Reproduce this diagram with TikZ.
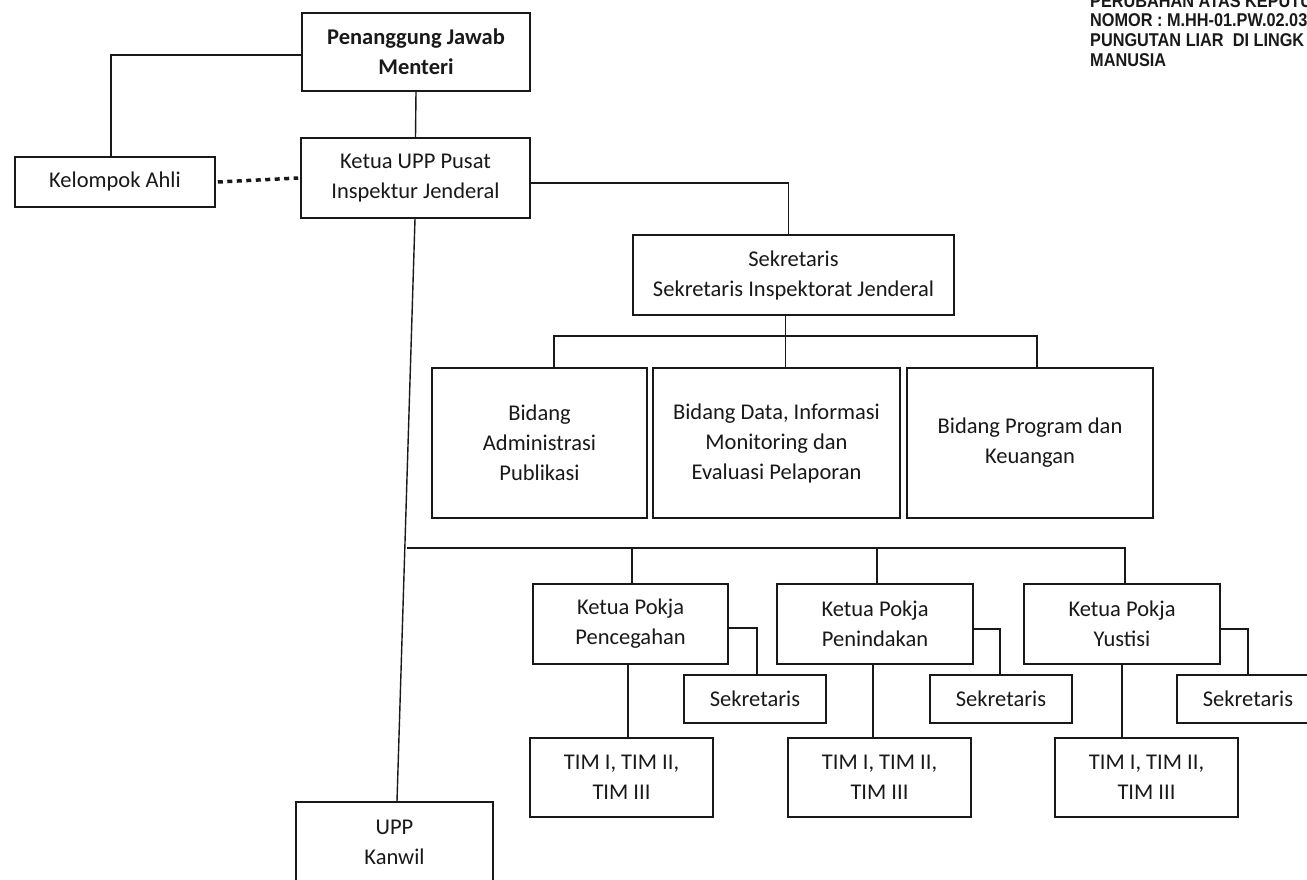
\documentclass[tikz,border=0pt]{standalone}
\usepackage{fontspec}
\setmainfont{Carlito}
\newfontfamily\hdrfont{Liberation Sans}[FakeStretch=0.88]
\begin{document}
\begin{tikzpicture}[x=1pt,y=-1pt,
  box/.style={draw=black!90, line width=1.6pt, align=center, inner sep=0pt,
    font=\fontsize{22.5}{30}\selectfont, text=black!90},
  conn/.style={draw=black!90, line width=1.4pt},
  dotline/.style={draw=black!90, line width=3.5pt, dash pattern=on 5pt off 4.5pt},
  hdr/.style={anchor=base west, inner sep=0pt, font=\hdrfont\bfseries\fontsize{18.5}{20}\selectfont, text=black!90}]
\useasboundingbox (0,0) rectangle (1307,880);
\clip (0,0) rectangle (1307,880);
\fill[white] (0,0) rectangle (1307,880);

% header
\node[hdr] (hA) at (1090,8) {PERUBAHAN ATAS KEPUTU};
\node[hdr] (hB) at (1090,27) {NOMOR : M.HH-01.PW.02.03};
\node[hdr] (hC) at (1090,47) {PUNGUTAN LIAR\ \ DI LINGK};
\node[hdr] (hD) at (1090,67) {MANUSIA};

% top
\node[box, minimum width=228pt, minimum height=78pt, font=\bfseries\fontsize{22.5}{30}\selectfont] (pj) at (416,52) {Penanggung Jawab\\Menteri};
\node[box, minimum width=200pt, minimum height=50pt] (ka) at (115,182) {Kelompok Ahli};
\node[box, minimum width=229pt, minimum height=80pt] (ketua) at (415.5,178) {Ketua UPP Pusat\\Inspektur Jenderal};
\node[box, minimum width=321pt, minimum height=80pt] (sek) at (793.5,275) {Sekretaris\\Sekretaris Inspektorat Jenderal};

% bidang
\node[box, minimum width=215pt, minimum height=150pt] (b1) at (539.5,443) {Bidang\\Administrasi\\Publikasi};
\node[box, minimum width=247pt, minimum height=150pt] (b2) at (776.5,443) {Bidang Data, Informasi\\Monitoring dan\\Evaluasi Pelaporan};
\node[box, minimum width=246pt, minimum height=150pt] (b3) at (1030,443) {Bidang Program dan\\Keuangan};

% pokja
\node[box, minimum width=195pt, minimum height=80pt] (p1) at (630.5,624) {Ketua Pokja\\Pencegahan};
\node[box, minimum width=196pt, minimum height=80pt] (p2) at (875,624) {Ketua Pokja\\Penindakan};
\node[box, minimum width=196pt, minimum height=80pt] (p3) at (1122,624) {Ketua Pokja\\Yustisi};

\node[box, minimum width=142pt, minimum height=48pt] (s1) at (755,699) {Sekretaris};
\node[box, minimum width=142pt, minimum height=48pt] (s2) at (1001,699) {Sekretaris};
\node[box, minimum width=142pt, minimum height=48pt] (s3) at (1248,699) {Sekretaris};

\node[box, minimum width=183pt, minimum height=79pt] (t1) at (621.5,777.5) {TIM I, TIM II,\\TIM III};
\node[box, minimum width=183pt, minimum height=79pt] (t2) at (879.5,777.5) {TIM I, TIM II,\\TIM III};
\node[box, minimum width=183pt, minimum height=79pt] (t3) at (1146.5,777.5) {TIM I, TIM II,\\TIM III};

\node[box, minimum width=197pt, minimum height=80pt] (kanwil) at (394.5,842) {UPP\\Kanwil};

% connectors
\draw[conn] ([yshift=-3pt]pj.west) -| ([xshift=-4pt]ka.north);
\draw[dotline] ([xshift=2pt]ka.east) -- ([xshift=-2pt]ketua.west);
\draw[conn] (pj.south) -- (ketua.north);
\draw[conn] ([yshift=-5pt]ketua.east) -| ([xshift=-5pt]sek.north);
\draw[conn] ([xshift=-0.5pt]ketua.south) -- ([xshift=2.5pt]kanwil.north);

\coordinate (busL) at (554,336);
\coordinate (busR) at (1037,336);
\draw[conn] (busL |- b1.north) -- (busL) -- (busR) -- (busR |- b3.north);
\draw[conn] ([xshift=-8pt]sek.south) -- ([xshift=-8pt]sek.south |- b2.north);

\coordinate (bus2L) at (407,548);
\coordinate (bus2R) at (1125,548);
\draw[conn] (bus2L) -- (bus2R) -- (bus2R |- p3.north);
\draw[conn] ([xshift=1.5pt]p1.north |- bus2L) -- ([xshift=1.5pt]p1.north);
\draw[conn] ([xshift=2pt]p2.north |- bus2L) -- ([xshift=2pt]p2.north);

\draw[conn] ([yshift=-4pt]p1.east) -| ([xshift=2pt]s1.north);
\draw[conn] ([yshift=-5pt]p2.east) -| ([xshift=-1pt]s2.north);
\draw[conn] ([yshift=-5pt]p3.east) -| (s3.north);

\draw[conn] ([xshift=-2.5pt]p1.south) -- ([xshift=-2.5pt]p1.south |- t1.north);
\draw[conn] ([xshift=-2pt]p2.south) -- ([xshift=-2pt]p2.south |- t2.north);
\draw[conn] (p3.south) -- (p3.south |- t3.north);
\end{tikzpicture}
\end{document}
